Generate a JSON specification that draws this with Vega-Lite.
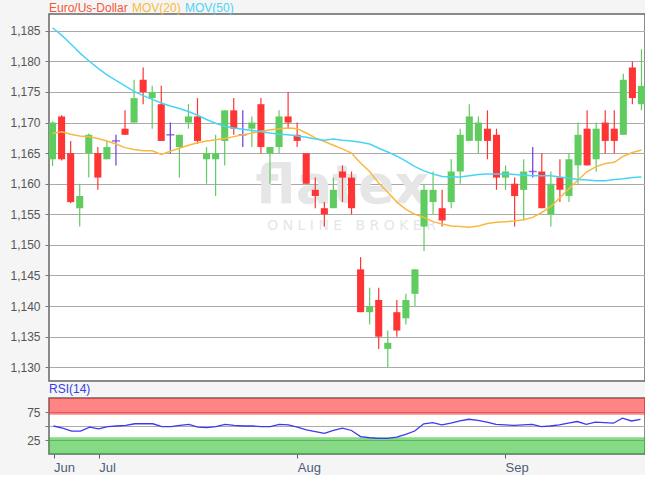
{
  "$schema": "https://vega.github.io/schema/vega-lite/v6.json",
  "background": "#f5f5f5",
  "padding": {"left": 9, "top": 2, "right": 1, "bottom": 0},
  "spacing": 0,
  "data": {"values": [
    {"d":"2018-06-25","o":1.164,"h":1.1702,"l":1.1629,"c":1.170,"m20":1.1682,"m50":1.1855,"rsi":50},
    {"d":"2018-06-26","o":1.171,"h":1.1712,"l":1.1638,"c":1.164,"m20":1.1685,"m50":1.1843,"rsi":46},
    {"d":"2018-06-27","o":1.165,"h":1.167,"l":1.1568,"c":1.157,"m20":1.1681,"m50":1.1829,"rsi":41},
    {"d":"2018-06-28","o":1.156,"h":1.160,"l":1.153,"c":1.158,"m20":1.1678,"m50":1.1814,"rsi":41},
    {"d":"2018-06-29","o":1.165,"h":1.1682,"l":1.161,"c":1.168,"m20":1.1677,"m50":1.1801,"rsi":48},
    {"d":"2018-07-02","o":1.165,"h":1.166,"l":1.159,"c":1.161,"m20":1.1674,"m50":1.1789,"rsi":45},
    {"d":"2018-07-03","o":1.164,"h":1.167,"l":1.164,"c":1.166,"m20":1.1670,"m50":1.1778,"rsi":49},
    {"d":"2018-07-04","o":1.167,"h":1.168,"l":1.163,"c":1.167,"m20":1.1665,"m50":1.1769,"rsi":50},
    {"d":"2018-07-05","o":1.169,"h":1.172,"l":1.168,"c":1.168,"m20":1.1659,"m50":1.1760,"rsi":51},
    {"d":"2018-07-06","o":1.170,"h":1.177,"l":1.170,"c":1.174,"m20":1.1656,"m50":1.1751,"rsi":54},
    {"d":"2018-07-09","o":1.177,"h":1.179,"l":1.173,"c":1.175,"m20":1.1654,"m50":1.1744,"rsi":54},
    {"d":"2018-07-10","o":1.174,"h":1.176,"l":1.169,"c":1.175,"m20":1.1654,"m50":1.1738,"rsi":54},
    {"d":"2018-07-11","o":1.173,"h":1.176,"l":1.167,"c":1.167,"m20":1.1648,"m50":1.1732,"rsi":49},
    {"d":"2018-07-12","o":1.168,"h":1.170,"l":1.165,"c":1.168,"m20":1.1653,"m50":1.1727,"rsi":49},
    {"d":"2018-07-13","o":1.166,"h":1.168,"l":1.161,"c":1.168,"m20":1.1658,"m50":1.1723,"rsi":51},
    {"d":"2018-07-16","o":1.170,"h":1.173,"l":1.169,"c":1.171,"m20":1.1663,"m50":1.1718,"rsi":53},
    {"d":"2018-07-17","o":1.171,"h":1.174,"l":1.1665,"c":1.167,"m20":1.1667,"m50":1.1712,"rsi":48},
    {"d":"2018-07-18","o":1.164,"h":1.166,"l":1.160,"c":1.165,"m20":1.1670,"m50":1.1705,"rsi":47},
    {"d":"2018-07-19","o":1.164,"h":1.168,"l":1.158,"c":1.165,"m20":1.1672,"m50":1.1699,"rsi":49},
    {"d":"2018-07-20","o":1.167,"h":1.172,"l":1.163,"c":1.172,"m20":1.1674,"m50":1.1694,"rsi":53},
    {"d":"2018-07-23","o":1.172,"h":1.174,"l":1.168,"c":1.169,"m20":1.1677,"m50":1.1691,"rsi":51},
    {"d":"2018-07-24","o":1.168,"h":1.172,"l":1.166,"c":1.168,"m20":1.1680,"m50":1.1689,"rsi":50},
    {"d":"2018-07-25","o":1.169,"h":1.171,"l":1.166,"c":1.170,"m20":1.1683,"m50":1.1687,"rsi":50},
    {"d":"2018-07-26","o":1.173,"h":1.174,"l":1.165,"c":1.166,"m20":1.1686,"m50":1.1685,"rsi":49},
    {"d":"2018-07-27","o":1.165,"h":1.166,"l":1.160,"c":1.166,"m20":1.1688,"m50":1.1683,"rsi":49},
    {"d":"2018-07-30","o":1.166,"h":1.172,"l":1.165,"c":1.171,"m20":1.1690,"m50":1.1681,"rsi":53},
    {"d":"2018-07-31","o":1.171,"h":1.175,"l":1.169,"c":1.170,"m20":1.1691,"m50":1.1680,"rsi":52},
    {"d":"2018-08-01","o":1.168,"h":1.170,"l":1.166,"c":1.167,"m20":1.1690,"m50":1.1678,"rsi":48},
    {"d":"2018-08-02","o":1.165,"h":1.165,"l":1.160,"c":1.160,"m20":1.1683,"m50":1.1676,"rsi":43},
    {"d":"2018-08-03","o":1.159,"h":1.161,"l":1.156,"c":1.158,"m20":1.1675,"m50":1.1673,"rsi":40},
    {"d":"2018-08-06","o":1.156,"h":1.157,"l":1.153,"c":1.155,"m20":1.1669,"m50":1.1671,"rsi":37},
    {"d":"2018-08-07","o":1.156,"h":1.161,"l":1.156,"c":1.159,"m20":1.1663,"m50":1.1673,"rsi":42},
    {"d":"2018-08-08","o":1.162,"h":1.163,"l":1.157,"c":1.161,"m20":1.1657,"m50":1.1671,"rsi":46},
    {"d":"2018-08-09","o":1.161,"h":1.162,"l":1.155,"c":1.156,"m20":1.1650,"m50":1.1670,"rsi":42},
    {"d":"2018-08-10","o":1.146,"h":1.148,"l":1.139,"c":1.139,"m20":1.1634,"m50":1.1668,"rsi":31},
    {"d":"2018-08-13","o":1.139,"h":1.143,"l":1.137,"c":1.140,"m20":1.1620,"m50":1.1665,"rsi":29},
    {"d":"2018-08-14","o":1.141,"h":1.143,"l":1.133,"c":1.135,"m20":1.1601,"m50":1.1658,"rsi":28},
    {"d":"2018-08-15","o":1.133,"h":1.136,"l":1.130,"c":1.134,"m20":1.1586,"m50":1.1652,"rsi":28},
    {"d":"2018-08-16","o":1.139,"h":1.141,"l":1.135,"c":1.136,"m20":1.1570,"m50":1.1645,"rsi":30},
    {"d":"2018-08-17","o":1.138,"h":1.142,"l":1.137,"c":1.141,"m20":1.1558,"m50":1.1637,"rsi":35},
    {"d":"2018-08-20","o":1.142,"h":1.146,"l":1.140,"c":1.146,"m20":1.1550,"m50":1.1628,"rsi":41},
    {"d":"2018-08-21","o":1.153,"h":1.160,"l":1.149,"c":1.159,"m20":1.1545,"m50":1.1621,"rsi":54},
    {"d":"2018-08-22","o":1.157,"h":1.162,"l":1.155,"c":1.159,"m20":1.1538,"m50":1.1616,"rsi":56},
    {"d":"2018-08-23","o":1.156,"h":1.159,"l":1.153,"c":1.154,"m20":1.1534,"m50":1.1612,"rsi":52},
    {"d":"2018-08-24","o":1.157,"h":1.164,"l":1.156,"c":1.162,"m20":1.1531,"m50":1.1611,"rsi":55},
    {"d":"2018-08-27","o":1.162,"h":1.169,"l":1.160,"c":1.168,"m20":1.1530,"m50":1.1611,"rsi":59},
    {"d":"2018-08-28","o":1.167,"h":1.173,"l":1.167,"c":1.171,"m20":1.1529,"m50":1.1613,"rsi":62},
    {"d":"2018-08-29","o":1.167,"h":1.171,"l":1.165,"c":1.170,"m20":1.1531,"m50":1.1615,"rsi":60},
    {"d":"2018-08-30","o":1.169,"h":1.172,"l":1.164,"c":1.167,"m20":1.1535,"m50":1.1616,"rsi":57},
    {"d":"2018-08-31","o":1.168,"h":1.169,"l":1.159,"c":1.161,"m20":1.1537,"m50":1.1616,"rsi":53},
    {"d":"2018-09-03","o":1.161,"h":1.163,"l":1.159,"c":1.162,"m20":1.1538,"m50":1.1616,"rsi":52},
    {"d":"2018-09-04","o":1.160,"h":1.161,"l":1.153,"c":1.158,"m20":1.1539,"m50":1.1615,"rsi":51},
    {"d":"2018-09-05","o":1.159,"h":1.164,"l":1.154,"c":1.162,"m20":1.1541,"m50":1.1614,"rsi":52},
    {"d":"2018-09-06","o":1.162,"h":1.166,"l":1.161,"c":1.162,"m20":1.1545,"m50":1.1613,"rsi":53},
    {"d":"2018-09-07","o":1.162,"h":1.165,"l":1.156,"c":1.156,"m20":1.1553,"m50":1.1613,"rsi":49},
    {"d":"2018-09-10","o":1.155,"h":1.162,"l":1.153,"c":1.160,"m20":1.1563,"m50":1.1613,"rsi":50},
    {"d":"2018-09-11","o":1.161,"h":1.164,"l":1.157,"c":1.159,"m20":1.1577,"m50":1.1611,"rsi":52},
    {"d":"2018-09-12","o":1.158,"h":1.165,"l":1.157,"c":1.164,"m20":1.1592,"m50":1.1609,"rsi":55},
    {"d":"2018-09-13","o":1.163,"h":1.170,"l":1.160,"c":1.168,"m20":1.1606,"m50":1.1607,"rsi":58},
    {"d":"2018-09-14","o":1.169,"h":1.172,"l":1.163,"c":1.163,"m20":1.1620,"m50":1.1606,"rsi":53},
    {"d":"2018-09-17","o":1.164,"h":1.170,"l":1.162,"c":1.169,"m20":1.1628,"m50":1.1605,"rsi":57},
    {"d":"2018-09-18","o":1.170,"h":1.172,"l":1.165,"c":1.167,"m20":1.1633,"m50":1.1605,"rsi":56},
    {"d":"2018-09-19","o":1.169,"h":1.172,"l":1.165,"c":1.167,"m20":1.1635,"m50":1.1607,"rsi":55},
    {"d":"2018-09-20","o":1.168,"h":1.178,"l":1.168,"c":1.177,"m20":1.1645,"m50":1.1608,"rsi":64},
    {"d":"2018-09-21","o":1.179,"h":1.180,"l":1.173,"c":1.174,"m20":1.1651,"m50":1.1610,"rsi":59},
    {"d":"2018-09-24","o":1.173,"h":1.182,"l":1.172,"c":1.176,"m20":1.1655,"m50":1.1611,"rsi":62}
  ]},
  "config": {
    "font": "Liberation Sans",
    "view": {"stroke": "#666666", "strokeWidth": 1.5, "fill": "white"},
    "axis": {"labelFont": "Liberation Sans", "labelFontSize": 12, "labelColor": "#555555", "tickColor": "#777777", "gridColor": "#aaaaaa", "gridWidth": 1.2, "domain": false, "tickSize": 4, "labelPadding": 5, "title": null, "labelOverlap": false},
    "legend": {"labelFontSize": 12, "labelFont": "Liberation Sans", "symbolSize": 0.01, "symbolStrokeWidth": 0.01, "labelOffset": -12, "columnPadding": 4, "padding": 0, "gridAlign": "none"}
  },
  "vconcat": [
    {
      "width": 596,
      "height": 367,
      "encoding": {
        "x": {"field": "d", "type": "ordinal", "axis": null, "scale": {"paddingInner": 0.22, "paddingOuter": 0}}
      },
      "layer": [
        {
          "data": {"values": [{"w": "flatex"}]},
          "mark": {"type": "text", "font": "DejaVu Sans", "fontWeight": "bold", "fontSize": 54, "color": "#e6e6e6", "baseline": "alphabetic", "align": "center"},
          "encoding": {
            "x": {"datum": "2018-08-08", "type": "ordinal"},
            "y": {"datum": 1.1569, "type": "quantitative", "scale": {"domain": [1.12775, 1.18775], "zero": false, "nice": false},
              "axis": {"values": [1.13, 1.135, 1.14, 1.145, 1.15, 1.155, 1.16, 1.165, 1.17, 1.175, 1.18, 1.185], "labelExpr": "replace(format(datum.value, '.3f'), '.', ',')", "grid": true, "labelOverlap": false}},
            "text": {"field": "w"}
          }
        },
        {
          "data": {"values": [{"w": "O N L I N E \u00a0 B R O K E R"}]},
          "mark": {"type": "text", "font": "DejaVu Sans", "fontSize": 14, "color": "#e6e6e6", "baseline": "middle", "align": "center"},
          "encoding": {
            "x": {"datum": "2018-08-09", "type": "ordinal"},
            "y": {"datum": 1.1531, "type": "quantitative", "scale": {"domain": [1.12775, 1.18775], "zero": false, "nice": false},
              "axis": {"values": [1.13, 1.135, 1.14, 1.145, 1.15, 1.155, 1.16, 1.165, 1.17, 1.175, 1.18, 1.185], "labelExpr": "replace(format(datum.value, '.3f'), '.', ',')", "grid": true, "labelOverlap": false}},
            "text": {"field": "w"}
          }
        },
        {
          "mark": {"type": "rule", "strokeWidth": 1.2},
          "encoding": {
            "y": {"field": "l", "type": "quantitative", "scale": {"domain": [1.12775, 1.18775], "zero": false, "nice": false},
              "axis": {"values": [1.13, 1.135, 1.14, 1.145, 1.15, 1.155, 1.16, 1.165, 1.17, 1.175, 1.18, 1.185], "labelExpr": "replace(format(datum.value, '.3f'), '.', ',')", "grid": true, "labelOverlap": false}},
            "y2": {"field": "h"},
            "color": {"condition": [{"test": "datum.c > datum.o", "value": "#60cc60"}, {"test": "datum.c < datum.o", "value": "#ff3434"}], "value": "#6a3bdc"}
          }
        },
        {
          "mark": {"type": "bar"},
          "encoding": {
            "y": {"field": "o", "type": "quantitative", "scale": {"domain": [1.12775, 1.18775], "zero": false, "nice": false},
              "axis": {"values": [1.13, 1.135, 1.14, 1.145, 1.15, 1.155, 1.16, 1.165, 1.17, 1.175, 1.18, 1.185], "labelExpr": "replace(format(datum.value, '.3f'), '.', ',')", "grid": true, "labelOverlap": false}},
            "y2": {"field": "c"},
            "color": {"condition": [{"test": "datum.c > datum.o", "value": "#60cc60"}, {"test": "datum.c < datum.o", "value": "#ff3434"}], "value": "#6a3bdc"}
          }
        },
        {
          "transform": [{"filter": "datum.o == datum.c"}],
          "mark": {"type": "tick", "size": 8, "thickness": 1.5, "color": "#6a3bdc"},
          "encoding": {
            "y": {"field": "o", "type": "quantitative", "scale": {"domain": [1.12775, 1.18775], "zero": false, "nice": false},
              "axis": {"values": [1.13, 1.135, 1.14, 1.145, 1.15, 1.155, 1.16, 1.165, 1.17, 1.175, 1.18, 1.185], "labelExpr": "replace(format(datum.value, '.3f'), '.', ',')", "grid": true, "labelOverlap": false}}
          }
        },
        {
          "transform": [{"fold": ["m20", "m50"], "as": ["series", "ma"]}],
          "mark": {"type": "line", "strokeWidth": 1.5},
          "encoding": {
            "y": {"field": "ma", "type": "quantitative", "scale": {"domain": [1.12775, 1.18775], "zero": false, "nice": false},
              "axis": {"values": [1.13, 1.135, 1.14, 1.145, 1.15, 1.155, 1.16, 1.165, 1.17, 1.175, 1.18, 1.185], "labelExpr": "replace(format(datum.value, '.3f'), '.', ',')", "grid": true, "labelOverlap": false}},
            "color": {
              "field": "series", "type": "nominal",
              "scale": {"domain": ["price", "m20", "m50"], "range": ["#f4553b", "#f9b941", "#49d4f5"]},
              "legend": {
                "orient": "top", "direction": "horizontal", "title": null,
                "symbolSize": 0.01, "symbolStrokeWidth": 0.01, "symbolOpacity": 0,
                "labelOffset": -12, "columnPadding": 4, "padding": 0, "offset": -1,
                "labelFontSize": 12, "labelFont": "Liberation Sans", "gridAlign": "none",
                "labelExpr": "datum.value == 'price' ? 'Euro/Us-Dollar' : datum.value == 'm20' ? 'MOV(20)' : 'MOV(50)'",
                "encode": {
                  "symbols": {"update": {"opacity": {"value": 0}}},
                  "labels": {"update": {"fill": {"signal": "datum.value == 'price' ? '#f4553b' : datum.value == 'm20' ? '#f9b941' : '#49d4f5'"}}}
                }
              }
            }
          }
        }
      ]
    },
    {
      "width": 596,
      "height": 56,
      "title": {"text": "RSI(14)", "anchor": "start", "frame": "group", "color": "#3440e8", "fontSize": 12, "fontWeight": "normal", "font": "Liberation Sans", "offset": 2},
      "layer": [
        {
          "data": {"values": [{"lo": 70, "hi": 100}, {"lo": 0, "hi": 30}]},
          "mark": {"type": "rect", "opacity": 0.55},
          "encoding": {
            "y": {"field": "lo", "type": "quantitative", "scale": {"domain": [0, 100], "nice": false},
              "axis": {"values": [25, 50, 75], "labelExpr": "datum.value == 50 ? '' : datum.label", "grid": true}},
            "y2": {"field": "hi"},
            "color": {"condition": {"test": "datum.lo > 50", "value": "#ff2020"}, "value": "#22bb22"}
          }
        },
        {
          "mark": {"type": "line", "strokeWidth": 1.3, "color": "#3a3af0"},
          "encoding": {
            "x": {"field": "d", "type": "ordinal", "scale": {"paddingInner": 0.22, "paddingOuter": 0},
              "axis": {"values": ["2018-06-25", "2018-07-02", "2018-08-01", "2018-09-03"],
                "labelExpr": "substring(datum.value, 5, 7) == '06' ? 'Jun' : substring(datum.value, 5, 7) == '07' ? 'Jul' : substring(datum.value, 5, 7) == '08' ? 'Aug' : 'Sep'",
                "labelAlign": "left", "labelAngle": 0, "labelPadding": 3, "tickSize": 4, "tickColor": "#4a6078", "labelColor": "#4a6078", "labelFontSize": 13}},
            "y": {"field": "rsi", "type": "quantitative", "scale": {"domain": [0, 100], "nice": false},
              "axis": {"values": [25, 50, 75], "labelExpr": "datum.value == 50 ? '' : datum.label", "grid": true}}
          }
        }
      ]
    }
  ]
}
